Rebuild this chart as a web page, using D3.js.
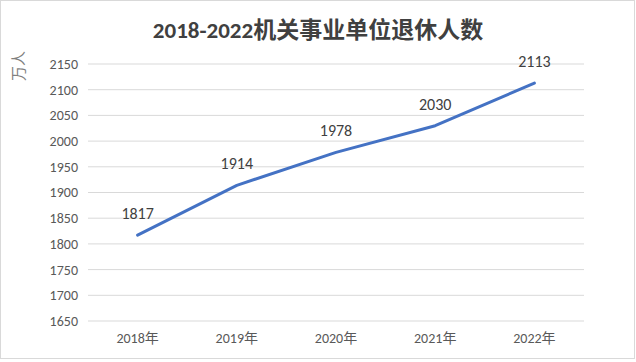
<!DOCTYPE html>
<html>
<head>
<meta charset="utf-8">
<script src="https://cdn.jsdelivr.net/npm/d3@7"></script>
<style>
  body { margin: 0; background: #fff; }
  text { font-family: Calibri, Carlito, "Liberation Sans", "Noto Sans CJK SC", sans-serif; }
</style>
</head>
<body>
<svg id="chart" width="636" height="362"></svg>
<script>
const years = ['2018年', '2019年', '2020年', '2021年', '2022年']
const retirees = [1817, 1914, 1978, 2030, 2113]
const yTicks = [1650, 1700, 1750, 1800, 1850, 1900, 1950, 2000, 2050, 2100, 2150]

const svg = d3.select('#chart')
const margin = { top: 64, right: 52, bottom: 41, left: 88 }
const width = 636 - margin.left - margin.right
const height = 362 - margin.top - margin.bottom

// outer border
svg.append('rect')
  .attr('x', 0.5).attr('y', 0.5)
  .attr('width', 634).attr('height', 358)
  .attr('fill', '#fff')
  .attr('stroke', '#d9d9d9')

svg.append('text')
  .attr('x', 318).attr('y', 38)
  .attr('text-anchor', 'middle')
  .attr('font-size', 23)
  .attr('font-weight', 'bold')
  .attr('fill', '#404040')
  .text('2018-2022机关事业单位退休人数')

const x = d3.scaleBand().domain(years).range([0, width])
const y = d3.scaleLinear().domain([1650, 2150]).range([height, 0])

const g = svg.append('g')
  .attr('transform', 'translate(' + margin.left + ',' + margin.top + ')')

// gridlines
g.selectAll('.grid')
  .data(yTicks)
  .enter()
  .append('line')
  .attr('x1', 0).attr('x2', width)
  .attr('y1', d => y(d)).attr('y2', d => y(d))
  .attr('stroke', '#d9d9d9')
  .attr('stroke-width', 1)

const yAxis = g.append('g')
  .call(d3.axisLeft(y).tickValues(yTicks).tickFormat(d3.format('d')).tickSize(0).tickPadding(10))
yAxis.select('.domain').remove()
yAxis.selectAll('text')
  .attr('font-size', 14)
  .attr('fill', '#595959')

const xAxis = g.append('g')
  .attr('transform', 'translate(0,' + height + ')')
  .call(d3.axisBottom(x).tickSize(0).tickPadding(12))
xAxis.select('.domain').remove()
xAxis.selectAll('text')
  .attr('font-size', 14)
  .attr('fill', '#595959')

svg.append('text')
  .attr('transform', 'translate(24,66) rotate(-90)')
  .attr('text-anchor', 'middle')
  .attr('font-size', 15)
  .attr('fill', '#7f7f7f')
  .text('万人')

const line = d3.line()
  .x((d, i) => x(years[i]) + x.bandwidth() / 2)
  .y(d => y(d))

g.append('path')
  .datum(retirees)
  .attr('d', line)
  .attr('fill', 'none')
  .attr('stroke', '#4472c4')
  .attr('stroke-width', 3)
  .attr('stroke-linecap', 'round')
  .attr('stroke-linejoin', 'round')

g.selectAll('.label')
  .data(retirees)
  .enter()
  .append('text')
  .attr('x', (d, i) => x(years[i]) + x.bandwidth() / 2)
  .attr('y', d => y(d) - 16)
  .attr('text-anchor', 'middle')
  .attr('font-size', 16)
  .attr('fill', '#404040')
  .text(d => d)
</script>
</body>
</html>
